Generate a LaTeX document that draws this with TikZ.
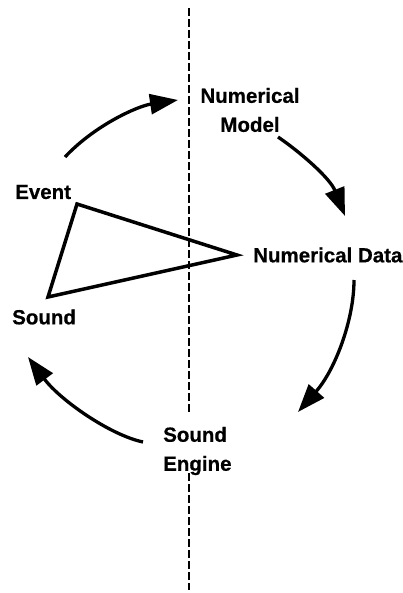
\documentclass[tikz,border=0pt]{standalone}
\usepackage{fontspec}
\setmainfont{Liberation Sans}
\newfontfamily\heavyfont{Liberation Sans Bold}[FakeBold=0.6]
\usetikzlibrary{arrows.meta}
\begin{document}
\begin{tikzpicture}[x=1pt,y=-1pt,
  lbl/.style={font=\heavyfont\fontsize{20.5}{29}\selectfont, inner sep=0pt},
  cyc/.style={line width=3.3pt, -{Triangle[length=28pt,width=20pt]}},
  axis/.style={line width=2.3pt, dash pattern=on 8pt off 3pt},
  tri/.style={line width=3.5pt, line join=miter}]
\useasboundingbox[fill=white] (0,0) rectangle (403,593);
% dashed axis
\coordinate (axtop) at (189,8);
\coordinate (axgap1) at (189,413);
\coordinate (axgap2) at (189,473);
\coordinate (axbot) at (189,590);
\draw[axis] (axtop) -- (axgap1);
\draw[axis] (axgap2) -- (axbot);
% labels
\node[lbl, align=center] (model) at (250,110) {Numerical\\Model};
\node[lbl, anchor=west] (event) at (15,192) {Event};
\node[lbl, anchor=west] (data) at (253,255) {Numerical Data};
\node[lbl, anchor=west] (sound) at (12,317) {Sound};
\node[lbl, anchor=west, align=left] (engine) at (163,451) {Sound\\Engine};
% triangle
\coordinate (tA) at (77,204);
\coordinate (tB) at (237,255);
\coordinate (tC) at (48,297);
\draw[tri] (tA) -- (tB) -- (tC) -- cycle;
% cycle arrows
\coordinate (a1s) at (65,157);  \coordinate (a1e) at (178,100);
\coordinate (a2s) at (278,137); \coordinate (a2e) at (345,216);
\coordinate (a3s) at (354,280); \coordinate (a3e) at (298,412);
\coordinate (a4s) at (143,442); \coordinate (a4e) at (28,357);
\draw[cyc] (a1s) .. controls (95,125) and (138,106) .. (a1e);
\draw[cyc] (a2s) .. controls (300,152) and (330,178) .. (a2e);
\draw[cyc] (a3s) .. controls (354,320) and (335,370) .. (a3e);
\draw[cyc] (a4s) .. controls (110,435) and (60,400) .. (a4e);
\end{tikzpicture}
\end{document}
